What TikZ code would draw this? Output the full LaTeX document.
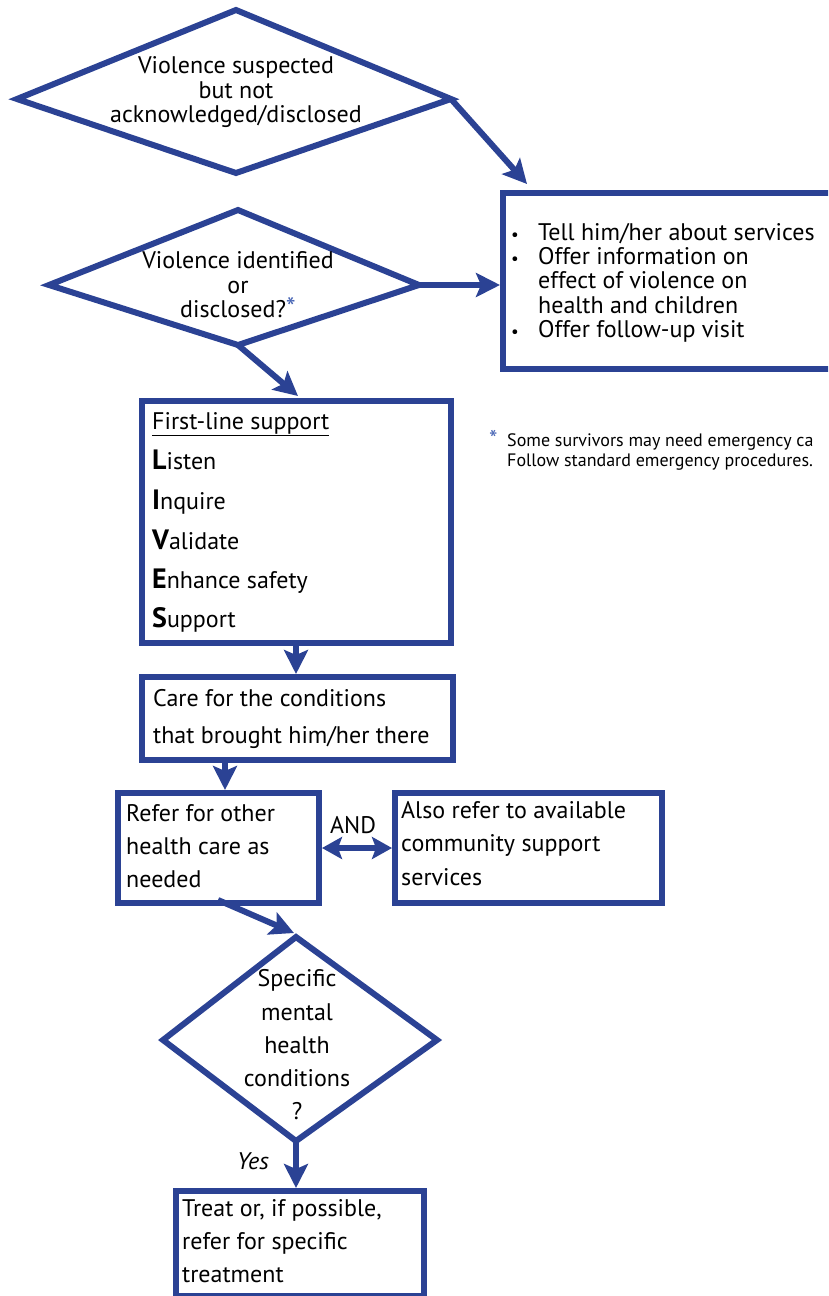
\documentclass[tikz,border=0pt]{standalone}
\usepackage{fontspec}
\setmainfont{PT Sans}
\usetikzlibrary{arrows.meta}
\definecolor{wblue}{RGB}{43,66,148}
\definecolor{starblue}{RGB}{70,100,180}
\begin{document}
\begin{tikzpicture}[x=1pt,y=-1pt,
  shapeline/.style={draw=wblue, line width=6pt, line join=miter},
  box/.style={draw=wblue, line width=6pt, fill=none, inner sep=0pt, anchor=north west},
  conn/.style={draw=wblue, line width=6pt, -{Stealth[length=24pt,width=24pt,inset=5pt]}},
  dconn/.style={draw=wblue, line width=6pt, {Stealth[length=20pt,width=22pt,inset=4pt]}-{Stealth[length=20pt,width=22pt,inset=4pt]}},
  txt/.style={inner sep=0pt, anchor=base west, font=\fontsize{24}{28}\selectfont},
  ctxt/.style={inner sep=0pt, anchor=base, font=\fontsize{24}{28}\selectfont},
  bul/.style={inner sep=0pt, anchor=base, font=\fontsize{17}{20}\selectfont},
  ftxt/.style={inner sep=0pt, anchor=base west, font=\fontsize{18}{20}\selectfont}]
\useasboundingbox (0,0) rectangle (828,1296);
\clip (0,0) rectangle (828,1296);

% diamonds
\coordinate (d1l) at (17,99);  \coordinate (d1t) at (236,10);
\coordinate (d1r) at (451,99); \coordinate (d1b) at (236,173);
\draw[shapeline] (d1l) -- (d1t) -- (d1r) -- (d1b) -- cycle;
\coordinate (d2l) at (49,285);  \coordinate (d2t) at (238,210);
\coordinate (d2r) at (419,285); \coordinate (d2b) at (238,345);
\draw[shapeline] (d2l) -- (d2t) -- (d2r) -- (d2b) -- cycle;
\coordinate (d3l) at (163,1040);  \coordinate (d3t) at (296,937);
\coordinate (d3r) at (437,1040);  \coordinate (d3b) at (296,1141);
\draw[shapeline] (d3l) -- (d3t) -- (d3r) -- (d3b) -- cycle;

% boxes
\node (rb) [box, minimum width=330pt, minimum height=176pt] at (500,190) {};
\node (fl) [box, minimum width=309pt, minimum height=242pt] at (139,398) {};
\node (care) [box, minimum width=311pt, minimum height=83pt] at (139,674) {};
\node (refer) [box, minimum width=201pt, minimum height=110pt] at (115,790) {};
\node (also) [box, minimum width=267pt, minimum height=110pt] at (392,790) {};
\node (treat) [box, minimum width=248pt, minimum height=105pt] at (173,1188) {};

% connectors
\coordinate (a1e) at (527,184);
\draw[conn] (d1r) -- (a1e);
\draw[conn] (d2r) -- (rb.west |- d2r);
\coordinate (a3e) at (298,396);
\draw[conn] (d2b) -- (a3e);
\coordinate (a4s) at (296,640);
\draw[conn] (a4s) -- (a4s |- care.north);
\coordinate (a5s) at (225,757);
\draw[conn] (a5s) -- (a5s |- refer.north);
\coordinate (a6s) at (218,900);
\coordinate (a6e) at (294,933);
\draw[conn] (a6s) -- (a6e);
\draw[dconn] (refer.east) -- (also.west);
\draw[conn] (d3b) -- (d3b |- treat.north);

% diamond texts
\node (t1a) [ctxt] at (236,73) {Violence suspected};
\node (t1b) [ctxt] at (236,98) {but not};
\node (t1c) [ctxt] at (236,122) {acknowledged/disclosed};
\node (t2a) [ctxt] at (238,268) {Violence identified};
\node (t2b) [ctxt] at (238,293) {or};
\node (t2c) [ctxt] at (238,317) {disclosed?\textcolor{starblue}{\fontsize{28}{28}\selectfont *}};

% right box
\node (b1) [bul] at (515,240) {\textbullet};
\node (r1) [txt] at (538,240) {Tell him/her about services};
\node (b2) [bul] at (515,264) {\textbullet};
\node (r2) [txt] at (538,264) {Offer information on};
\node (r3) [txt] at (538,288.5) {effect of violence on};
\node (r4) [txt] at (538,313) {health and children};
\node (b3) [bul] at (515,337.5) {\textbullet};
\node (r5) [txt] at (538,337.5) {Offer follow-up visit};

% footnote
\node (fs) [ftxt, text=starblue, font=\fontsize{24}{24}\selectfont] at (489,447) {*};
\node (f1) [ftxt] at (507,446) {Some survivors may need emergency ca};
\node (f2) [ftxt] at (507,466) {Follow standard emergency procedures.};

% first-line support
\node (l0) [txt] at (152,429) {\underline{First-line support}};
\node (l1) [txt] at (152,469) {{\fontsize{28}{28}\selectfont\bfseries L}isten};
\node (l2) [txt] at (152,509) {{\fontsize{28}{28}\selectfont\bfseries I}nquire};
\node (l3) [txt] at (152,549) {{\fontsize{28}{28}\selectfont\bfseries V}alidate};
\node (l4) [txt] at (152,588) {{\fontsize{28}{28}\selectfont\bfseries E}nhance safety};
\node (l5) [txt] at (152,627) {{\fontsize{28}{28}\selectfont\bfseries S}upport};

% care
\node (c1) [txt] at (153,706) {Care for the conditions};
\node (c2) [txt] at (153,743) {that brought him/her there};

% refer
\node (e1) [txt] at (126,821) {Refer for other};
\node (e2) [txt] at (126,854) {health care as};
\node (e3) [txt] at (126,887) {needed};

% also
\node (s1) [txt] at (401,818) {Also refer to available};
\node (s2) [txt] at (401,851) {community support};
\node (s3) [txt] at (401,885) {services};
\node (and) [ctxt] at (353,833) {AND};

% diamond 3
\node (m1) [ctxt] at (297,986) {Specific};
\node (m2) [ctxt] at (297,1020) {mental};
\node (m3) [ctxt] at (297,1053) {health};
\node (m4) [ctxt] at (297,1086) {conditions};
\node (m5) [ctxt] at (297,1119) {?};
\node (yes) [ctxt, font=\fontsize{24}{28}\selectfont\itshape] at (253,1169) {Yes};

% treat
\node (w1) [txt] at (182,1216) {Treat or, if possible,};
\node (w2) [txt] at (182,1249) {refer for specific};
\node (w3) [txt] at (182,1282) {treatment};
\end{tikzpicture}
\end{document}
